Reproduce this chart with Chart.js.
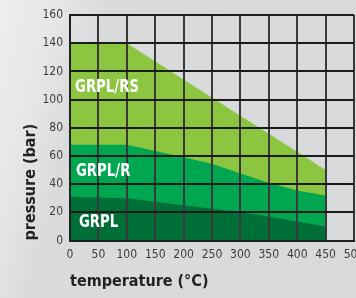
<!DOCTYPE html>
<html>
<head>
<meta charset="utf-8">
<script src="https://cdn.jsdelivr.net/npm/chart.js@4"></script>
<style>
  html, body { margin: 0; padding: 0; }
  body {
    width: 356px; height: 298px; overflow: hidden;
    background: linear-gradient(105deg, #eeeeee 0%, #e6e6e7 14%, #dadbdd 24%, #d8d9db 100%);
  }
  #wrap { position: relative; width: 356px; height: 298px; }
</style>
</head>
<body>
<div id="wrap"><canvas id="c" width="356" height="298"></canvas></div>
<script>
// ---- data ----
const temps = [0, 100, 200, 250, 300, 350, 400, 450];
const grplRS = [140, 140, 114.3, 101.4, 88.6, 75.7, 62.9, 50];
const grplR  = [68, 68, 59, 54.5, 47.5, 41, 35.5, 32];
const grpl   = [31, 30, 25, 22.5, 20, 17, 13.5, 10];
const seriesNames = ['GRPL', 'GRPL/R', 'GRPL/RS'];
const xTicks = [0, 50, 100, 150, 200, 250, 300, 350, 400, 450, 500];
const yTicks = [0, 20, 40, 60, 80, 100, 120, 140, 160];

const FONT = '"DejaVu Sans", sans-serif';

function pts(vals) { return temps.map((t, i) => ({ x: t, y: vals[i] })); }

const labelPlugin = {
  id: 'zoneLabels',
  afterDraw(chart) {
    const { ctx, scales: { x, y } } = chart;
    const items = [
      { text: seriesNames[2], x: 8.8, y: 108.5 },
      { text: seriesNames[1], x: 10.5, y: 48.8 },
      { text: seriesNames[0], x: 15.8, y: 12.6 }
    ];
    const sx = 0.82;
    ctx.save();
    ctx.fillStyle = '#ffffff';
    ctx.font = 'bold condensed 18px ' + FONT;
    ctx.textAlign = 'left';
    ctx.textBaseline = 'middle';
    items.forEach(it => {
      const px = x.getPixelForValue(it.x), py = y.getPixelForValue(it.y);
      ctx.save();
      ctx.translate(px, py);
      ctx.scale(sx, 1);
      ctx.fillText(it.text, 0, 0);
      ctx.restore();
    });
    ctx.restore();
  }
};

new Chart(document.getElementById('c'), {
  type: 'line',
  data: {
    datasets: [
      { label: seriesNames[0], data: pts(grpl), backgroundColor: '#006f37', fill: 'origin' },
      { label: seriesNames[1], data: pts(grplR), backgroundColor: '#00a650', fill: 'origin' },
      { label: seriesNames[2], data: pts(grplRS), backgroundColor: '#8cc640', fill: 'origin' }
    ]
  },
  options: {
    responsive: false,
    animation: false,
    events: [],
    elements: { line: { borderWidth: 0, tension: 0 }, point: { radius: 0 } },
    layout: { padding: { top: 15, right: 2, left: 0, bottom: 0 } },
    plugins: { legend: { display: false }, tooltip: { enabled: false } },
    scales: {
      x: {
        type: 'linear', min: 0, max: 500,
        afterBuildTicks(s) { s.ticks = xTicks.map(v => ({ value: v })); },
        afterFit(s) { s.height = 57.5; s.paddingRight = 0; s.paddingLeft = 0; },
        grid: { color: '#3a3a3a', lineWidth: 2, drawTicks: false, z: 1 },
        border: { color: '#222', width: 2, z: 1 },
        ticks: { color: '#3c3c3c', font: { family: FONT, size: 12, weight: 'condensed' }, padding: 7, maxRotation: 0, autoSkip: false },
        title: { display: true, text: 'temperature (°C)', align: 'start', color: '#222',
                 font: { family: FONT, size: 16, weight: 'bold condensed' }, padding: { top: 0, bottom: 7 } }
      },
      y: {
        type: 'linear', min: 0, max: 160,
        afterBuildTicks(s) { s.ticks = yTicks.map(v => ({ value: v })); },
        afterFit(s) { s.width = 70; s.paddingTop = 0; s.paddingBottom = 0; },
        grid: { color: '#1c1c1c', lineWidth: 2, drawTicks: false, z: 1 },
        border: { color: '#222', width: 2, z: 1 },
        ticks: { color: '#3c3c3c', font: { family: FONT, size: 12, weight: 'condensed' }, padding: 7 },
        title: { display: true, text: 'pressure (bar)', align: 'start', color: '#222',
                 font: { family: FONT, size: 16, weight: 'bold condensed' }, padding: { top: 21, bottom: 0 } }
      }
    }
  },
  plugins: [labelPlugin]
});
</script>
</body>
</html>
